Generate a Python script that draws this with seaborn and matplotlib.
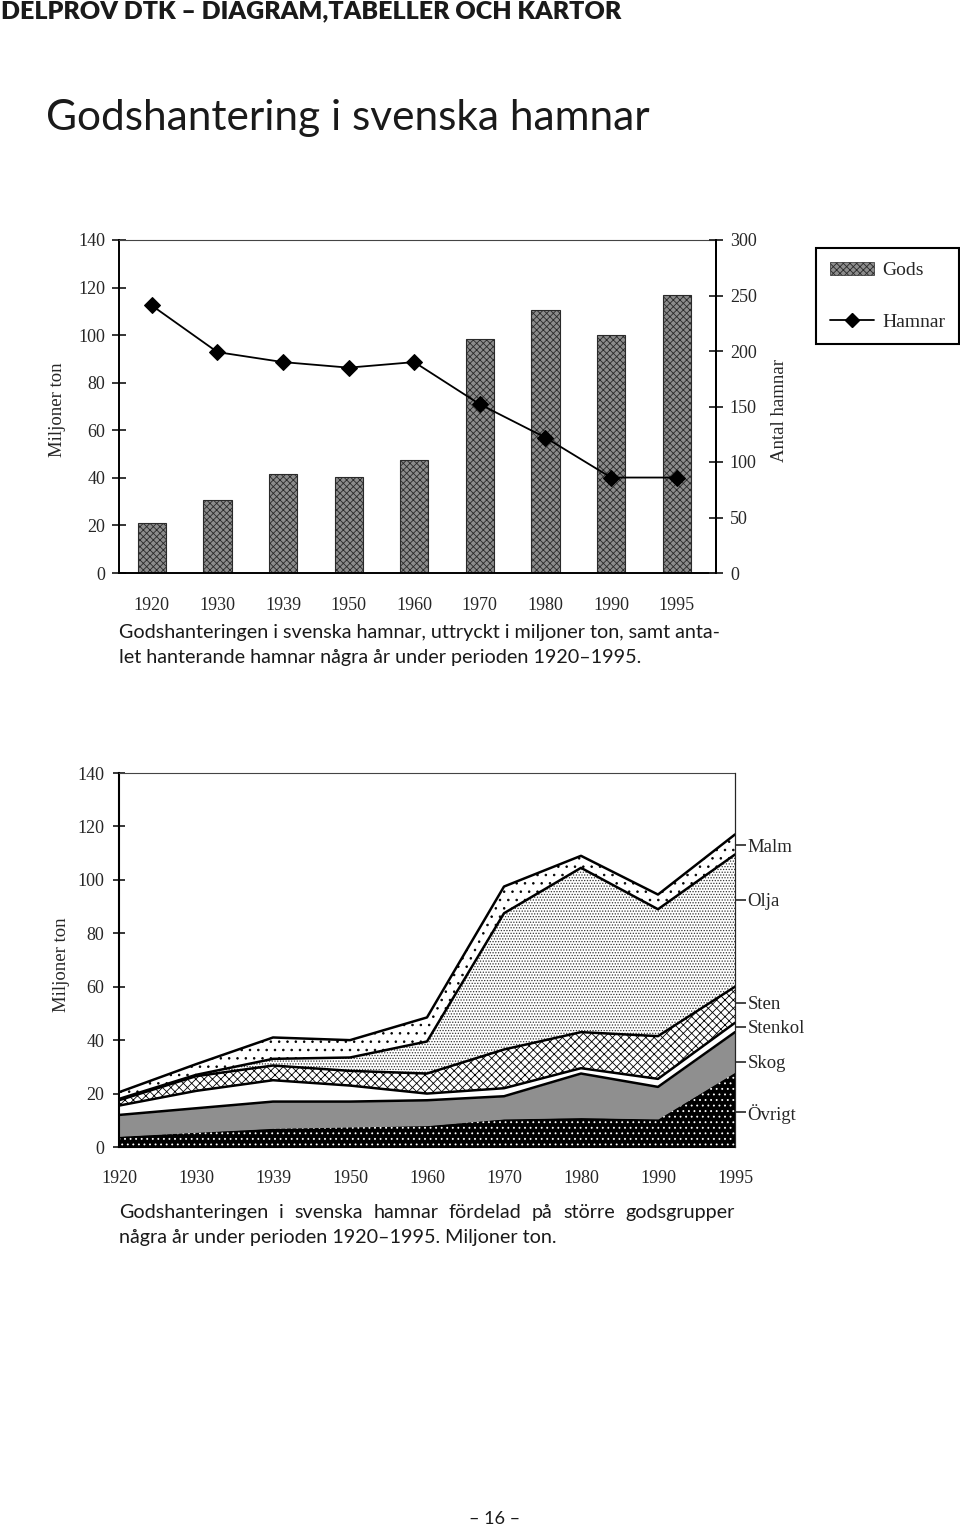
import numpy as np
import pandas as pd
import matplotlib
matplotlib.use("Agg")
import matplotlib.pyplot as plt
from matplotlib.patches import Patch
from matplotlib.lines import Line2D
import seaborn as sns

# ---- data ----
years = ["1920", "1930", "1939", "1950", "1960", "1970", "1980", "1990", "1995"]
gods = [21, 30.5, 41.5, 40.5, 47.5, 98.5, 110.5, 100, 117]        # miljoner ton
hamnar = [241, 199, 190, 185, 190, 152, 122, 86, 86]                # antal hamnar

# godsgrupper, miljoner ton (stacked bottom -> top)
ovrigt = [4, 5.5, 7, 7.5, 8, 10.5, 11, 10.5, 28]
skog = [8, 9, 10, 9.5, 9.5, 8.5, 16.5, 12, 15]
stenkol = [3.5, 6.5, 8, 6, 2.5, 3, 2, 3, 3.5]
sten = [2, 5.5, 5.5, 5.5, 7.5, 14.5, 13.5, 16, 13.5]
olja = [0.5, 0.5, 2.5, 5, 12, 51, 61.5, 47.5, 49.5]
malm = [2.5, 4, 8, 6.5, 9, 10, 4.5, 5.5, 7.5]

group_names = ["Övrigt", "Skog", "Stenkol", "Sten", "Olja", "Malm"]
label_pos = [13, 32, 45, 54, 92.5, 113]   # where the right-hand labels point

sns.set_style("white")
plt.rcParams["font.family"] = ["Liberation Serif", "DejaVu Serif"]
plt.rcParams["hatch.linewidth"] = 0.6

SANS = ["Lato", "DejaVu Sans"]
W, H = 960, 1528
fig = plt.figure(figsize=(W / 100, H / 100), dpi=100)


def fx(px):
    return px / W


def fy(py):
    return 1 - py / H


def justified(line, x0, x1, y, **kw):
    # place words so the line runs from x0 to x1 (pixels), common baseline
    words = line.split()
    r = fig.canvas.get_renderer()
    widths = []
    for w in words:
        t = fig.text(0, 0, w, **kw)
        widths.append(t.get_window_extent(r).width)
        t.remove()
    gap = (x1 - x0 - sum(widths)) / (len(words) - 1)
    pos = x0
    for w, wd in zip(words, widths):
        fig.text(fx(pos), fy(y), w, va="baseline", ha="left", **kw)
        pos += wd + gap


# ---- page texts ----
fig.text(fx(1), fy(11), "DELPROV DTK – DIAGRAM,TABELLER OCH KARTOR", family=SANS,
         weight="heavy", fontsize=18, va="center", ha="left", color="#1a1a1a")
fig.text(fx(46), fy(118), "Godshantering i svenska hamnar", family=SANS,
         fontsize=30.5, va="center", ha="left", color="#1a1a1a")

# ---- chart 1: bars + line ----
df = pd.DataFrame({"år": years, "gods": gods, "hamnar": hamnar})
ax1 = fig.add_axes([fx(119), fy(573), fx(716) - fx(119), fy(240) - fy(573)])
sns.barplot(data=df, x="år", y="gods", color="#8c8c8c", saturation=1, width=0.43,
            hatch="xxxxx", edgecolor="#2a2a2a", linewidth=0.8, ax=ax1)
ax1.set_xlim(-0.5, 8.6)
ax1.set_ylim(0, 140)
ax1.set_yticks(range(0, 141, 20))
ax1.set_xlabel("")
ax1.set_ylabel("")
ax1.tick_params(axis="y", direction="inout", length=10, width=1.3, labelsize=13, pad=5)
ax1.tick_params(axis="x", which="major", length=0, labelsize=13, pad=17)
ax1.set_xticks(np.arange(0.5, 8, 1), minor=True)
ax1.tick_params(axis="x", which="minor", direction="inout", length=10, width=1.3)
for s in ["left", "bottom", "right"]:
    ax1.spines[s].set_linewidth(1.4)
    ax1.spines[s].set_color("black")
ax1.spines["top"].set_linestyle((0, (2, 1)))
ax1.spines["top"].set_linewidth(0.8)
ax1.spines["top"].set_color("#444444")

ax2 = ax1.twinx()
sns.lineplot(x=np.arange(len(years)), y=hamnar, color="black", linewidth=1.3,
             marker="D", markersize=8, markeredgecolor="black", ax=ax2)
ax2.set_ylim(0, 300)
ax2.set_yticks(range(0, 301, 50))
ax2.tick_params(axis="y", direction="inout", length=10, width=1.3, labelsize=13, pad=5)
for s in ["left", "bottom", "top"]:
    ax2.spines[s].set_visible(False)
ax2.spines["right"].set_linewidth(1.4)
ax2.spines["right"].set_color("black")

fig.text(fx(57), fy(410), "Miljoner ton", rotation=90, fontsize=13.5, va="center", ha="center")
fig.text(fx(779), fy(410), "Antal hamnar", rotation=90, fontsize=13.5, va="center", ha="center")

leg = fig.legend(
    handles=[Patch(facecolor="#8c8c8c", hatch="xxxxx", edgecolor="#2a2a2a", linewidth=0.5),
             Line2D([0], [0], color="black", lw=1.3, marker="D", markersize=7)],
    labels=["Gods", "Hamnar"], loc="upper left", bbox_to_anchor=(fx(816), fy(248)),
    frameon=True, fancybox=False, framealpha=1, edgecolor="black", fontsize=14,
    labelspacing=1.75, handlelength=2.3, handleheight=0.7, borderpad=0.7, handletextpad=0.4,
    borderaxespad=0)
leg.get_frame().set_linewidth(1.5)

cap = dict(family=SANS, fontsize=14.2, color="#1a1a1a")
fig.text(fx(119), fy(638), "Godshanteringen i svenska hamnar, uttryckt i miljoner ton, samt anta-",
         va="baseline", ha="left", **cap)
fig.text(fx(119), fy(663), "let hanterande hamnar några år under perioden 1920–1995.",
         va="baseline", ha="left", **cap)

# ---- chart 2: stacked areas ----
x = np.arange(len(years))
layers = [ovrigt, skog, stenkol, sten, olja, malm]
styles = [
    dict(facecolor="black", edgecolor="white", hatch="..."),
    dict(facecolor="#8f8f8f", edgecolor="#8f8f8f", hatch=None),
    dict(facecolor="white", edgecolor="white", hatch=None),
    dict(facecolor="white", edgecolor="black", hatch="xxxx"),
    dict(facecolor="white", edgecolor="#333333", hatch="......"),
    dict(facecolor="white", edgecolor="black", hatch=".."),
]
ax3 = fig.add_axes([fx(119), fy(1147), fx(735) - fx(119), fy(773) - fy(1147)])
lower = np.zeros(len(years))
for i, (vals, st) in enumerate(zip(layers, styles)):
    upper = lower + np.array(vals)
    ax3.fill_between(x, lower, upper, linewidth=0, **st)
    if i > 0:
        sns.lineplot(x=x, y=upper, color="black", linewidth=1.8, ax=ax3)
    lower = upper

ax3.set_xlim(0, 8)
ax3.set_ylim(0, 140)
ax3.set_xticks(x)
ax3.set_xticklabels(years)
ax3.set_yticks(range(0, 141, 20))
ax3.tick_params(axis="both", direction="inout", length=9, width=1.3, labelsize=13)
ax3.tick_params(axis="x", pad=12)
ax3.tick_params(axis="y", pad=6)
for s in ["left", "bottom"]:
    ax3.spines[s].set_linewidth(1.5)
    ax3.spines[s].set_color("black")
ax3.spines["right"].set_linewidth(0.8)
ax3.spines["right"].set_color("black")
ax3.spines["top"].set_linestyle((0, (2, 1)))
ax3.spines["top"].set_linewidth(0.8)
ax3.spines["top"].set_color("#444444")

ax4 = ax3.twinx()
ax4.set_ylim(0, 140)
ax4.set_yticks(label_pos)
ax4.set_yticklabels(group_names)
ax4.tick_params(axis="y", direction="out", length=8, width=1.2, labelsize=13.5, pad=1)
for s in ["left", "bottom", "top"]:
    ax4.spines[s].set_visible(False)
ax4.spines["right"].set_linewidth(0.8)

fig.text(fx(62), fy(965), "Miljoner ton", rotation=90, fontsize=13.5, va="center", ha="center")

justified("Godshanteringen i svenska hamnar fördelad på större godsgrupper",
          119, 735, 1218, **cap)
fig.text(fx(119), fy(1243), "några år under perioden 1920–1995. Miljoner ton.",
         va="baseline", ha="left", **cap)

fig.text(fx(495), fy(1519), "– 16 –", family=SANS, fontsize=13, va="center", ha="center",
         color="#1a1a1a")

fig.savefig("out.png", dpi=100, facecolor="white")
